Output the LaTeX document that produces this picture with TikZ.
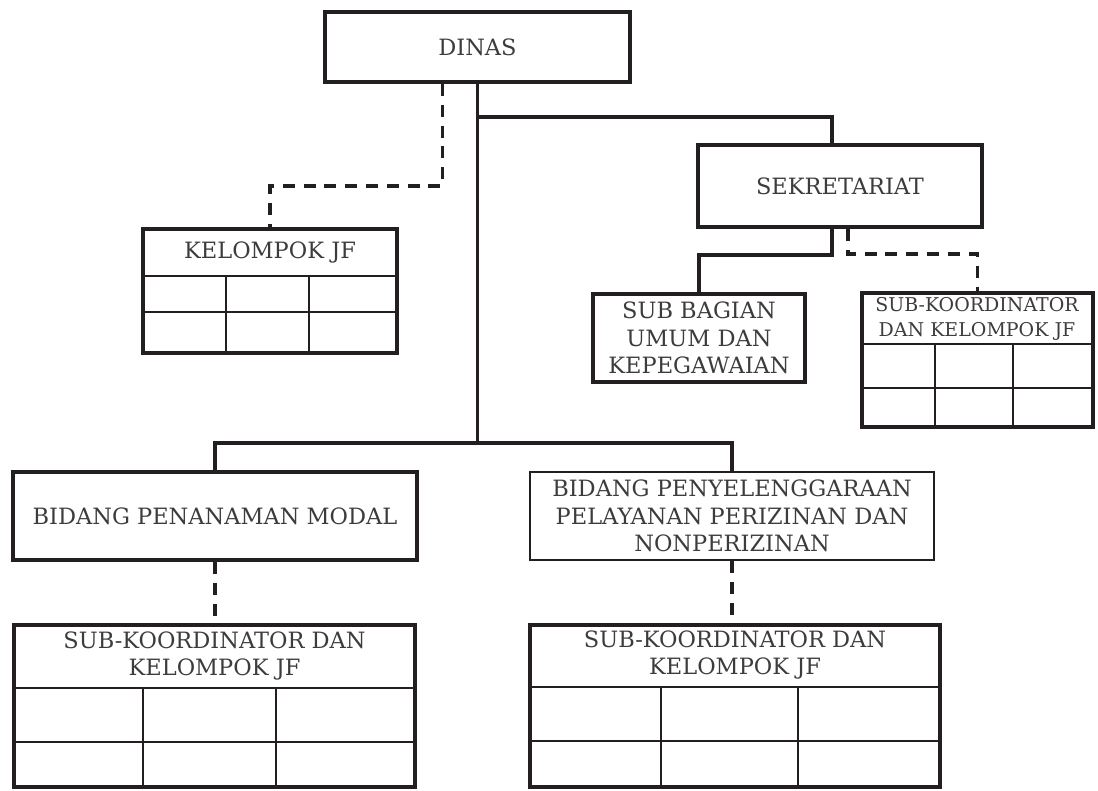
\documentclass[tikz,border=0pt]{standalone}
\usepackage{fontspec}
\setmainfont{DejaVu Serif}
\usepackage{tikz}

\definecolor{inkline}{HTML}{231F20}
\definecolor{inktext}{HTML}{3C3C3C}

\tikzset{
	box/.style={draw=inkline, line width=2.8pt, inner sep=0pt, text=inktext, align=center, font=\fontsize{16}{19.5}\selectfont},
	head/.style={text=inktext, align=center, font=\fontsize{16}{19.5}\selectfont},
	smallhead/.style={text=inktext, align=center, font=\fontsize{13.5}{17.5}\selectfont},
	link/.style={draw=inkline, line width=2.2pt},
	dlink/.style={draw=inkline, line width=2.8pt, dash pattern=on 0.3cm off 0.22cm},
	grid/.style={draw=inkline, line width=1pt},
	headline/.style={draw=inkline, line width=1.4pt},
}

\begin{document}
\begin{tikzpicture}[x=0.025cm, y=-0.025cm]
		\useasboundingbox (0,0) rectangle (1098,790);

		% top level
		\node[box, minimum width=7.625cm, minimum height=1.75cm] (dinas) at (477.5,47) {DINAS};
		\node[box, minimum width=7.1cm, minimum height=2.05cm] (sekr) at (840,186) {SEKRETARIAT};
		\node[box, minimum width=5.3cm, minimum height=2.2cm] (subbag) at (699,338) {SUB BAGIAN\\UMUM DAN\\KEPEGAWAIAN};

		% kelompok jf
		\node[box, minimum width=6.35cm, minimum height=3.1cm] (kjf) at (270,291) {};
		\node[head] (kjfhead) at (270,252) {KELOMPOK JF};
		\draw[headline] (143,276) -- (397,276);
		\draw[grid] (143,312) -- (397,312);
		\draw[grid] (226,276) -- (226,353);
		\draw[grid] (309,276) -- (309,353);

		% sub-koordinator under sekretariat
		\node[box, minimum width=5.775cm, minimum height=3.35cm] (skr) at (977.5,360) {};
		\node[smallhead] (skrhead) at (977,319) {SUB-KOORDINATOR\\DAN KELOMPOK JF};
		\draw[headline] (862,344) -- (1093,344);
		\draw[grid] (862,388) -- (1093,388);
		\draw[grid] (935,344) -- (935,427);
		\draw[grid] (1013,344) -- (1013,427);

		% bidang
		\node[box, minimum width=10.1cm, minimum height=2.2cm] (bpm) at (215,516) {BIDANG PENANAMAN MODAL};
		\node[box, line width=1.8pt, minimum width=10.1cm, minimum height=2.2cm] (bppp) at (732,516) {BIDANG PENYELENGGARAAN\\PELAYANAN PERIZINAN DAN\\NONPERIZINAN};

		% sub-koordinator under bidang
		\node[box, minimum width=10.025cm, minimum height=4.05cm] (skl) at (214.5,706) {};
		\node[head] (sklhead) at (214.5,656) {SUB-KOORDINATOR DAN\\KELOMPOK JF};
		\draw[headline] (14,688) -- (415,688);
		\draw[grid] (14,742) -- (415,742);
		\draw[grid] (143,688) -- (143,787);
		\draw[grid] (276,688) -- (276,787);

		\node[box, minimum width=10.25cm, minimum height=4.05cm] (skrr) at (735,706) {};
		\node[head] (skrrhead) at (735,655) {SUB-KOORDINATOR DAN\\KELOMPOK JF};
		\draw[headline] (530,687) -- (940,687);
		\draw[grid] (530,741) -- (940,741);
		\draw[grid] (661,687) -- (661,787);
		\draw[grid] (798,687) -- (798,787);

		% connectors
		\coordinate (hub) at (477.5,443);
		\coordinate (sekrjoin) at (477.5,117);
		\draw[link] (dinas.south) -- (hub);
		\draw[link] (bpm.north) |- (hub) -| (bppp.north);
		\draw[link] (sekrjoin) -| ([xshift=-0.2cm]sekr.north);
		\draw[link] ([xshift=-0.2cm]sekr.south) -- ++(0,26) -| (subbag.north);
		\draw[dlink] ([xshift=-0.875cm]dinas.south) -- ++(0,102) -| (kjf.north);
		\draw[dlink] ([xshift=0.2cm]sekr.south) -- ++(0,25) -| (skr.north);
		\draw[dlink] (bpm.south) -- (bpm.south |- skl.north);
		\draw[dlink] (bppp.south) -- (bppp.south |- skrr.north);
	\end{tikzpicture}
\end{document}
